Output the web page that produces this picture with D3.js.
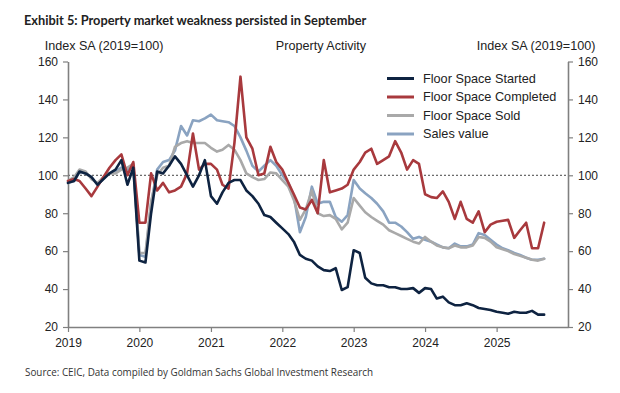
<!DOCTYPE html>
<html>
<head>
<meta charset="utf-8">
<script src="https://cdn.jsdelivr.net/npm/d3@7"></script>
<style>
  html, body { margin: 0; padding: 0; background: #fff; }
  svg { display: block; }
</style>
</head>
<body>
<svg id="chart" width="620" height="393"></svg>
<script>
// ---- Data (monthly, Jan 2019 – Sep 2025) ----
const startMonth = [2019, 0];
const floorStarted = [
  96, 97, 102, 101, 99, 95, 98, 101, 103, 108, 95, 104,
  55, 54, 80, 102, 101, 105, 110, 106, 100, 94, 100, 108,
  89, 85, 91, 96, 97.5, 97.5, 92, 89, 85, 79, 78, 75,
  72, 69, 65, 58, 56, 55, 52, 50, 49.5, 51, 39.5, 41,
  60.5, 59, 46, 43, 42, 42, 41, 41, 40, 40, 40.5, 38,
  40.5, 40, 35, 36, 33, 31.5, 31.5, 32.5, 31.5, 30, 29.5, 29,
  28, 27.5, 27, 28, 27.5, 27.5, 28.5, 26.5, 26.5
];
const floorCompleted = [
  97, 98, 97, 93, 89, 94, 99, 104, 108, 111, 100, 107,
  75, 75, 101, 92, 96, 91, 92, 94, 101, 122, 103, 106,
  106, 103, 95, 93, 117, 152, 120, 114, 100, 101, 115, 107,
  103, 96, 90, 83, 82, 87, 80, 108, 91, 92, 93, 95,
  103, 107, 112, 114, 106, 108, 110, 118, 112, 103, 108, 106,
  90, 88.5, 88, 91.5, 86, 77, 86, 77, 75, 81, 70, 74,
  75.5, 76, 76.5, 67, 71, 75, 61.5, 61.5, 75
];
const floorSold = [
  97, 99, 103, 102, 98, 96, 99, 101, 101, 103, 104, 106,
  59, 59, 86, 100, 104, 105, 115, 117, 118, 117, 117, 117,
  114.5, 112.5, 113.5, 116, 113.5, 108, 101, 99, 97.5, 98, 101.5, 101,
  97.5, 94, 87, 76.5, 82, 92, 80, 78.5, 79, 77, 71.5, 75,
  88, 84, 80.5, 78, 76, 74, 71, 69.5, 68, 66.5, 65, 64,
  67.5, 65, 63, 62, 61.5, 63, 62, 62, 63, 67.5, 67, 65,
  62, 61, 60, 58.5, 57.5, 56.5, 55.5, 55, 56
];
const salesValue = [
  96, 97, 102, 101, 99, 95, 98, 101, 102, 104, 103, 105,
  58, 57, 85, 103, 107, 108, 113, 126, 121, 129, 128.5, 130,
  132, 129, 128.5, 128, 126, 120, 113, 105, 102, 105, 108, 105,
  100, 96, 89, 70, 78, 94, 85, 86, 86, 78, 75.5, 79,
  97.5, 93, 90.5, 88, 85, 81, 75, 75, 73, 70, 66.5, 67.5,
  66, 65, 63.5, 62, 61.5, 64, 62.5, 62.5, 63.5, 69.5, 68.5, 66,
  63.5, 61.5, 60.5, 59, 58, 56.5, 55.5, 55.5, 56
];
const seriesNames = ["Floor Space Started", "Floor Space Completed", "Floor Space Sold", "Sales value"];
const seriesColors = ["#0e2341", "#a8393d", "#a9a9a9", "#8aa3c1"];
const yTicks = [20, 40, 60, 80, 100, 120, 140, 160];
const xTickYears = [2019, 2020, 2021, 2022, 2023, 2024, 2025];

const title = "Exhibit 5: Property market weakness persisted in September";
const axisTitleLeft = "Index SA (2019=100)";
const axisTitleRight = "Index SA (2019=100)";
const chartTitle = "Property Activity";
const sourceText = "Source: CEIC, Data compiled by Goldman Sachs Global Investment Research";

// ---- Layout ----
const svg = d3.select("#chart");
const plot = { left: 68, right: 568, top: 61.5, bottom: 327 };

const x = d3.scaleTime()
  .domain([new Date(2019, 0, 1), new Date(2026, 0, 1)])
  .range([plot.left, plot.right]);
const y = d3.scaleLinear().domain([20, 160]).range([plot.bottom, plot.top]);

const dateOf = i => new Date(startMonth[0], startMonth[1] + i, 1);

const axisColor = "#808080";
const font = "'Liberation Sans', Arial, sans-serif";

// Title
svg.append("text").attr("x", 24).attr("y", 25)
  .attr("font-family", "Lato, 'Open Sans', sans-serif").attr("font-weight", 700)
  .attr("font-size", 12.8).attr("fill", "#222").text(title);

// Axis titles
svg.append("text").attr("x", 104).attr("y", 50).attr("text-anchor", "middle")
  .attr("font-family", font).attr("font-size", 12.6).attr("fill", "#222").text(axisTitleLeft);
svg.append("text").attr("x", 321).attr("y", 50).attr("text-anchor", "middle")
  .attr("font-family", font).attr("font-size", 12.6).attr("fill", "#222").text(chartTitle);
svg.append("text").attr("x", 536).attr("y", 50).attr("text-anchor", "middle")
  .attr("font-family", font).attr("font-size", 12.6).attr("fill", "#222").text(axisTitleRight);

// 100 reference line
svg.append("line")
  .attr("x1", plot.left).attr("x2", plot.right)
  .attr("y1", y(100)).attr("y2", y(100))
  .attr("stroke", "#444").attr("stroke-width", 1).attr("stroke-dasharray", "2,2");

// Axes
function styleAxis(g) {
  g.selectAll("path").attr("stroke", axisColor).attr("stroke-width", 1.6);
  g.selectAll("line").attr("stroke", axisColor).attr("stroke-width", 1.2);
  g.selectAll("text").attr("font-family", font).attr("font-size", 12).attr("fill", "#222");
}

const yLeft = d3.axisLeft(y).tickValues(yTicks).tickSize(5).tickPadding(5).tickSizeOuter(0);
svg.append("g").attr("transform", `translate(${plot.left},0)`).call(yLeft).call(styleAxis);

const yRight = d3.axisRight(y).tickValues(yTicks).tickSize(5).tickPadding(5).tickSizeOuter(0);
svg.append("g").attr("transform", `translate(${plot.right},0)`).call(yRight).call(styleAxis);

const xAxis = d3.axisBottom(x)
  .tickValues(xTickYears.map(yr => new Date(yr, 0, 1)))
  .tickFormat(d3.timeFormat("%Y")).tickSize(5).tickPadding(6).tickSizeOuter(0);
svg.append("g").attr("transform", `translate(0,${plot.bottom})`).call(xAxis).call(styleAxis);

// Lines
const line = d3.line().x((d, i) => x(dateOf(i))).y(d => y(d));
const allSeries = [floorStarted, floorCompleted, floorSold, salesValue];
const drawOrder = [3, 2, 1, 0];
drawOrder.forEach(k => {
  svg.append("path").datum(allSeries[k])
    .attr("d", line).attr("fill", "none")
    .attr("stroke", seriesColors[k]).attr("stroke-width", 2.6)
    .attr("stroke-linejoin", "round").attr("stroke-linecap", "round");
});

// Legend
const legendY = [78.5, 97, 115.5, 134];
seriesNames.forEach((name, k) => {
  const g = svg.append("g");
  g.append("line").attr("x1", 387).attr("x2", 414)
    .attr("y1", legendY[k]).attr("y2", legendY[k])
    .attr("stroke", seriesColors[k]).attr("stroke-width", 3);
  g.append("text").attr("x", 423).attr("y", legendY[k]).attr("dy", "0.35em")
    .attr("font-family", font).attr("font-size", 12.7).attr("fill", "#222").text(name);
});

// Source
svg.append("text").attr("x", 25).attr("y", 376)
  .attr("font-family", "'Open Sans', 'Noto Sans', sans-serif").attr("font-size", 9.9)
  .attr("fill", "#333").text(sourceText);
</script>
</body>
</html>
